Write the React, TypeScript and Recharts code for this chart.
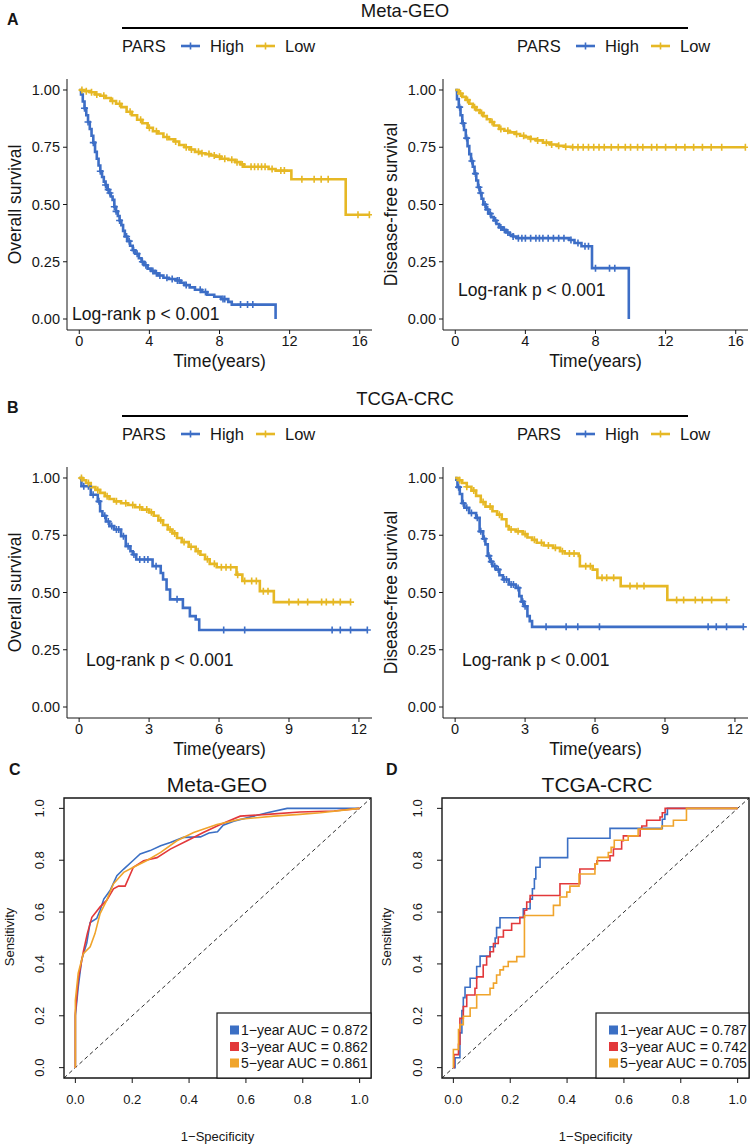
import React from "react";
import { ComposedChart, Line, Scatter, XAxis, YAxis, ReferenceArea, ReferenceLine } from "recharts";

const FONT = '"Liberation Sans", Arial, Helvetica, sans-serif';
const BLUE = "#3d6ec6";
const YELLOW = "#e6b825";
const ROC_BLUE = "#3b6fc4";
const ROC_RED = "#e2383a";
const ROC_ORANGE = "#f0a42b";
const INK = "#161616";

type Pt = [number, number];

// ---- Meta-GEO, overall survival: [time, survival] at each drop, last point = end of follow-up
const geoOsHigh: Pt[] = [
  [0, 1], [0.1, 0.98], [0.2, 0.95], [0.3, 0.92], [0.4, 0.89], [0.5, 0.86], [0.6, 0.83], [0.7, 0.8],
  [0.8, 0.77], [0.9, 0.73], [1.0, 0.7], [1.1, 0.67], [1.2, 0.645], [1.3, 0.62], [1.4, 0.6], [1.5, 0.585],
  [1.6, 0.565], [1.7, 0.55], [1.8, 0.535], [1.9, 0.52], [2.0, 0.49], [2.1, 0.47], [2.2, 0.45], [2.3, 0.43],
  [2.4, 0.41], [2.5, 0.385], [2.6, 0.36], [2.75, 0.34], [2.9, 0.32], [3.05, 0.3], [3.2, 0.285], [3.4, 0.265],
  [3.55, 0.25], [3.7, 0.235], [3.9, 0.22], [4.1, 0.21], [4.3, 0.2], [4.5, 0.19], [4.8, 0.18], [5.1, 0.175],
  [5.5, 0.168], [5.8, 0.158], [6.0, 0.148], [6.3, 0.138], [6.6, 0.128], [7.0, 0.118], [7.3, 0.106],
  [7.7, 0.097], [8.1, 0.087], [8.5, 0.075], [8.7, 0.063], [11.2, 0],
];
const geoOsHighCens = [0.3, 0.5, 0.8, 1.2, 1.5, 1.65, 1.75, 2.0, 2.1, 2.3, 2.7, 2.85, 3.1, 3.3, 3.6, 3.8, 4.2, 4.4, 4.6, 5.0, 5.3, 5.6, 5.7, 6.1, 6.9, 7.2, 8.2, 8.3, 9.2, 9.6, 9.9];
const geoOsLow: Pt[] = [
  [0, 1], [0.3, 0.995], [0.6, 0.99], [0.9, 0.98], [1.2, 0.975], [1.5, 0.965], [1.8, 0.952], [2.1, 0.94],
  [2.4, 0.925], [2.7, 0.905], [3.0, 0.89], [3.3, 0.87], [3.6, 0.855], [3.9, 0.835], [4.2, 0.82], [4.5, 0.81],
  [4.8, 0.795], [5.1, 0.785], [5.4, 0.775], [5.7, 0.76], [6.0, 0.75], [6.3, 0.74], [6.6, 0.73], [6.9, 0.724],
  [7.2, 0.72], [7.5, 0.714], [7.8, 0.709], [8.1, 0.7], [8.5, 0.695], [8.9, 0.685], [9.2, 0.675], [9.4, 0.665],
  [10.8, 0.655], [11.2, 0.648], [12.1, 0.61], [15.2, 0.455], [16.55, 0.455],
];
const geoOsLowCens = [0.15, 0.4, 0.7, 1.0, 1.4, 1.9, 2.3, 2.9, 3.5, 4.0, 4.4, 5.0, 5.5, 6.1, 6.4, 6.8, 7.0, 7.4, 7.7, 8.0, 8.3, 8.7, 9.0, 9.3, 9.8, 10.0, 10.2, 10.4, 10.6, 11.0, 11.5, 11.7, 12.7, 13.4, 13.8, 14.2, 15.9, 16.55];

// ---- Meta-GEO, disease-free survival
const geoDfsHigh: Pt[] = [
  [0, 1], [0.1, 0.96], [0.2, 0.925], [0.3, 0.89], [0.4, 0.855], [0.5, 0.825], [0.6, 0.79], [0.7, 0.755],
  [0.8, 0.72], [0.9, 0.69], [1.0, 0.665], [1.1, 0.635], [1.2, 0.605], [1.3, 0.575], [1.4, 0.55], [1.5, 0.525],
  [1.6, 0.5], [1.75, 0.478], [1.9, 0.46], [2.05, 0.445], [2.2, 0.43], [2.35, 0.415], [2.5, 0.4], [2.7, 0.39],
  [2.9, 0.378], [3.1, 0.368], [3.3, 0.36], [3.5, 0.353], [6.5, 0.345], [6.8, 0.332], [7.2, 0.318],
  [7.8, 0.222], [9.9, 0],
];
const geoDfsHighCens = [0.25, 0.45, 0.65, 0.95, 1.15, 1.35, 1.45, 1.7, 1.85, 2.0, 2.3, 2.6, 2.8, 3.0, 3.3, 3.6, 3.8, 4.0, 4.3, 4.6, 4.8, 5.0, 5.3, 5.6, 5.9, 6.2, 6.6, 7.0, 7.4, 7.6, 8.0, 8.8, 9.1];
const geoDfsLow: Pt[] = [
  [0, 1], [0.2, 0.985], [0.4, 0.97], [0.6, 0.956], [0.8, 0.94], [1.0, 0.925], [1.2, 0.912], [1.4, 0.9],
  [1.6, 0.886], [1.8, 0.872], [2.0, 0.86], [2.2, 0.845], [2.5, 0.83], [2.8, 0.822], [3.1, 0.815],
  [3.4, 0.808], [3.7, 0.8], [4.0, 0.794], [4.3, 0.786], [4.6, 0.78], [5.0, 0.77], [5.4, 0.762],
  [5.8, 0.756], [6.2, 0.752], [6.6, 0.75], [16.55, 0.75],
];
const geoDfsLowCens = [0.3, 0.7, 1.1, 1.5, 2.1, 2.6, 3.0, 3.5, 3.9, 4.3, 4.7, 5.2, 5.5, 5.9, 6.3, 6.7, 7.0, 7.3, 7.6, 7.9, 8.2, 8.5, 8.9, 9.3, 9.7, 10.0, 10.4, 10.7, 11.2, 11.5, 12.0, 12.6, 13.1, 13.6, 14.1, 14.6, 15.2, 16.55];

// ---- TCGA-CRC, overall survival
const tcgaOsHigh: Pt[] = [
  [0, 1], [0.1, 0.964], [0.5, 0.927], [0.8, 0.898], [0.9, 0.855], [1.0, 0.835], [1.15, 0.81], [1.3, 0.79],
  [1.5, 0.775], [1.8, 0.746], [2.0, 0.702], [2.2, 0.68], [2.3, 0.666], [2.45, 0.644], [3.15, 0.615],
  [3.5, 0.585], [3.6, 0.557], [3.75, 0.513], [3.9, 0.47], [4.45, 0.433], [4.75, 0.397], [5.0, 0.382],
  [5.15, 0.336], [12.36, 0.336],
];
const tcgaOsHighCens = [0.2, 0.4, 0.6, 0.85, 1.1, 1.25, 1.4, 1.6, 1.7, 1.9, 2.1, 2.35, 2.6, 2.8, 2.95, 3.3, 4.2, 6.2, 7.1, 10.85, 11.2, 11.64, 12.36];
const tcgaOsLow: Pt[] = [
  [0, 1], [0.15, 0.99], [0.3, 0.978], [0.5, 0.96], [0.7, 0.948], [0.9, 0.935], [1.1, 0.92], [1.3, 0.908],
  [1.5, 0.898], [1.8, 0.89], [2.1, 0.882], [2.4, 0.872], [2.7, 0.862], [3.0, 0.85], [3.2, 0.835],
  [3.4, 0.815], [3.6, 0.795], [3.8, 0.775], [4.0, 0.758], [4.2, 0.738], [4.4, 0.72], [4.7, 0.7], [5.0, 0.68],
  [5.2, 0.665], [5.4, 0.645], [5.6, 0.625], [5.9, 0.61], [6.75, 0.578], [7.0, 0.55], [7.75, 0.506],
  [8.35, 0.458], [11.64, 0.458],
];
const tcgaOsLowCens = [0.1, 0.4, 0.8, 1.2, 1.6, 2.0, 2.3, 2.6, 2.9, 3.1, 3.5, 3.9, 4.1, 4.5, 4.8, 5.1, 5.5, 5.8, 6.1, 6.3, 6.5, 6.8, 7.1, 7.4, 7.6, 7.9, 8.1, 9.0, 9.4, 9.8, 10.4, 10.6, 10.9, 11.2, 11.64];

// ---- TCGA-CRC, disease-free survival
const tcgaDfsHigh: Pt[] = [
  [0, 1], [0.05, 0.993], [0.1, 0.96], [0.2, 0.93], [0.3, 0.89], [0.4, 0.87], [0.6, 0.847], [0.9, 0.826],
  [1.05, 0.767], [1.2, 0.735], [1.3, 0.71], [1.4, 0.66], [1.5, 0.635], [1.6, 0.615], [1.75, 0.6],
  [1.9, 0.575], [2.05, 0.557], [2.3, 0.535], [2.6, 0.52], [2.75, 0.484], [2.85, 0.46], [2.95, 0.44],
  [3.1, 0.397], [3.2, 0.375], [3.3, 0.35], [12.36, 0.35],
];
const tcgaDfsHighCens = [0.15, 0.35, 0.5, 0.7, 0.95, 1.1, 1.25, 1.45, 1.55, 1.7, 1.85, 2.1, 2.2, 2.4, 2.5, 2.7, 2.9, 3.0, 3.9, 4.76, 5.26, 6.19, 10.85, 11.2, 11.64, 12.36];
const tcgaDfsLow: Pt[] = [
  [0, 1], [0.15, 0.99], [0.3, 0.978], [0.5, 0.962], [0.7, 0.945], [0.9, 0.922], [1.1, 0.895], [1.3, 0.875],
  [1.6, 0.855], [1.8, 0.84], [2.0, 0.82], [2.2, 0.79], [2.3, 0.775], [2.6, 0.767], [2.9, 0.755], [3.1, 0.74],
  [3.3, 0.73], [3.5, 0.717], [3.8, 0.705], [4.2, 0.695], [4.5, 0.68], [4.7, 0.67], [5.3, 0.66],
  [5.35, 0.615], [5.9, 0.6], [6.1, 0.564], [7.1, 0.528], [9.1, 0.467], [11.64, 0.467],
];
const tcgaDfsLowCens = [0.2, 0.5, 0.8, 1.2, 1.5, 1.9, 2.4, 2.7, 3.0, 3.4, 3.7, 4.0, 4.3, 4.6, 4.9, 5.1, 5.6, 5.8, 6.3, 6.5, 6.8, 7.5, 7.8, 8.1, 9.5, 9.8, 10.3, 10.6, 11.0, 11.64];

// ---- ROC curves: [1-specificity, sensitivity]
const geoRoc1: Pt[] = [
  [0, 0], [0, 0.2], [0.01, 0.31], [0.022, 0.415], [0.04, 0.48], [0.052, 0.56], [0.075, 0.575], [0.087, 0.607],
  [0.1, 0.65], [0.122, 0.683], [0.146, 0.74], [0.17, 0.766], [0.204, 0.8], [0.228, 0.824], [0.263, 0.837],
  [0.3, 0.856], [0.334, 0.868], [0.38, 0.888], [0.44, 0.89], [0.47, 0.905], [0.5, 0.91], [0.52, 0.935],
  [0.557, 0.95], [0.627, 0.97], [0.675, 0.983], [0.745, 1], [1, 1],
];
const geoRoc3: Pt[] = [
  [0, 0], [0, 0.21], [0.01, 0.34], [0.028, 0.447], [0.042, 0.517], [0.058, 0.58], [0.087, 0.62], [0.11, 0.645],
  [0.134, 0.69], [0.152, 0.7], [0.175, 0.7], [0.204, 0.773], [0.24, 0.798], [0.287, 0.81], [0.334, 0.843],
  [0.393, 0.875], [0.45, 0.907], [0.51, 0.938], [0.58, 0.97], [0.675, 0.977], [0.79, 0.986], [0.91, 0.99], [1, 1],
];
const geoRoc5: Pt[] = [
  [0, 0], [0, 0.26], [0.01, 0.364], [0.028, 0.44], [0.052, 0.466], [0.069, 0.517], [0.087, 0.594], [0.11, 0.645],
  [0.134, 0.709], [0.17, 0.753], [0.204, 0.773], [0.25, 0.798], [0.3, 0.83], [0.357, 0.875], [0.416, 0.907],
  [0.498, 0.938], [0.58, 0.958], [0.698, 0.97], [0.79, 0.977], [0.862, 0.983], [1, 1],
];
const tcgaRoc1: Pt[] = [
  [0, 0], [0.006, 0.038], [0.023, 0.134], [0.03, 0.22], [0.035, 0.27], [0.041, 0.31], [0.059, 0.345],
  [0.082, 0.39], [0.094, 0.43], [0.129, 0.466], [0.147, 0.5], [0.152, 0.54], [0.164, 0.578], [0.246, 0.613],
  [0.27, 0.65], [0.278, 0.69], [0.285, 0.728], [0.29, 0.773], [0.305, 0.81], [0.402, 0.885], [0.551, 0.923],
  [0.735, 0.958], [0.744, 0.977], [0.753, 1], [1, 1],
];
const tcgaRoc3: Pt[] = [
  [0, 0], [0.002, 0.05], [0.018, 0.09], [0.023, 0.19], [0.035, 0.236], [0.047, 0.28], [0.076, 0.306],
  [0.082, 0.35], [0.105, 0.396], [0.117, 0.428], [0.129, 0.447], [0.141, 0.479], [0.158, 0.504], [0.176, 0.53],
  [0.205, 0.556], [0.234, 0.58], [0.25, 0.607], [0.258, 0.639], [0.27, 0.664], [0.375, 0.709], [0.445, 0.766],
  [0.498, 0.785], [0.505, 0.798], [0.551, 0.817], [0.563, 0.843], [0.592, 0.875], [0.598, 0.894], [0.657, 0.92],
  [0.663, 0.932], [0.68, 0.954], [0.727, 0.967], [0.735, 0.983], [0.745, 1], [1, 1],
];
const tcgaRoc5: Pt[] = [
  [0, 0], [0, 0.07], [0.018, 0.147], [0.023, 0.166], [0.035, 0.198], [0.059, 0.23], [0.082, 0.281],
  [0.129, 0.306], [0.141, 0.326], [0.152, 0.357], [0.164, 0.377], [0.176, 0.39], [0.193, 0.409], [0.223, 0.428],
  [0.25, 0.587], [0.352, 0.626], [0.375, 0.658], [0.399, 0.677], [0.41, 0.7], [0.442, 0.747], [0.498, 0.785],
  [0.507, 0.811], [0.545, 0.83], [0.555, 0.85], [0.566, 0.877], [0.615, 0.894], [0.65, 0.92], [0.733, 0.932],
  [0.774, 0.954], [0.82, 1], [1, 1],
];

const geoAuc = ["0.872", "0.862", "0.861"];
const tcgaAuc = ["0.787", "0.742", "0.705"];
const rocYears = ["1", "3", "5"];

const kmYTicks = [0, 0.25, 0.5, 0.75, 1];
const geoTimeTicks = [0, 4, 8, 12, 16];
const tcgaTimeTicks = [0, 3, 6, 9, 12];
const rocTicks = [0, 0.2, 0.4, 0.6, 0.8, 1];

const steps = (pts: Pt[]) => pts.map(([t, s]) => ({ t, s }));
const censorMarks = (pts: Pt[], times: number[]) =>
  times.map((t) => {
    let s = pts[0][1];
    for (const [pt, ps] of pts) if (pt <= t) s = ps;
    return { t, s };
  });
const rocRows = (pts: Pt[]) => pts.map(([x, y]) => ({ x, y }));

const cross = (color: string) => (p: any) => (
  <path d={`M${p.cx - 3.5},${p.cy}h7M${p.cx},${p.cy - 3.5}v7`} stroke={color} strokeWidth={1.6} fill="none" />
);

function KMPanel({ left, top, domain, ticks, high, highCens, low, lowCens }: any) {
  const tickStyle = { fill: INK, fontSize: 14.5, fontFamily: FONT };
  return (
    <div style={{ position: "absolute", left, top }}>
      <ComposedChart width={376} height={301} margin={{ top: 5, right: 4, bottom: 0, left: 10 }}>
        <XAxis type="number" dataKey="t" domain={domain} ticks={ticks} allowDataOverflow height={45}
          tickSize={4} tickMargin={2} stroke={INK} tick={tickStyle} />
        <YAxis type="number" dataKey="s" domain={[-0.048, 1.048]} ticks={kmYTicks} allowDataOverflow width={57}
          tickSize={4} tickMargin={3} stroke={INK} tick={tickStyle} tickFormatter={(v: number) => v.toFixed(2)} />
        <Line data={steps(high)} dataKey="s" type="stepAfter" stroke={BLUE} strokeWidth={2.6} dot={false}
          activeDot={false} isAnimationActive={false} />
        <Scatter data={censorMarks(high, highCens)} dataKey="s" shape={cross(BLUE)} isAnimationActive={false} />
        <Line data={steps(low)} dataKey="s" type="stepAfter" stroke={YELLOW} strokeWidth={2.6} dot={false}
          activeDot={false} isAnimationActive={false} />
        <Scatter data={censorMarks(low, lowCens)} dataKey="s" shape={cross(YELLOW)} isAnimationActive={false} />
      </ComposedChart>
    </div>
  );
}

const RotTick = (p: any) => {
  const cx = p.x - 17;
  return (
    <text x={cx} y={p.y} transform={`rotate(-90 ${cx} ${p.y})`} textAnchor="middle" dominantBaseline="central"
      fill={INK} fontSize={13} fontFamily={FONT}>
      {Number(p.payload.value).toFixed(1)}
    </text>
  );
};

function RocPanel({ left, top, mLeft, mRight, curves, stepped }: any) {
  const colors = [ROC_BLUE, ROC_RED, ROC_ORANGE];
  return (
    <div style={{ position: "absolute", left, top }}>
      <ComposedChart width={376} height={357} margin={{ top: 8, right: mRight, bottom: 9, left: mLeft }}>
        <XAxis type="number" dataKey="x" domain={[-0.04, 1.04]} ticks={rocTicks} allowDataOverflow height={60}
          axisLine={false} tickSize={5} tickMargin={12} stroke={INK}
          tick={{ fill: INK, fontSize: 13, fontFamily: FONT }} tickFormatter={(v: number) => v.toFixed(1)} />
        <YAxis type="number" dataKey="y" domain={[-0.04, 1.04]} ticks={rocTicks} allowDataOverflow width={44}
          axisLine={false} tickSize={5} stroke={INK} tick={<RotTick />} />
        <ReferenceLine segment={[{ x: -0.04, y: -0.04 }, { x: 1.04, y: 1.04 }]} stroke={INK}
          strokeDasharray="4 3" strokeWidth={0.9} />
        {curves.map((c: Pt[], i: number) => (
          <Line key={i} data={rocRows(c)} dataKey="y" type={stepped ? "stepAfter" : "linear"} stroke={colors[i]}
            strokeWidth={1.6} dot={false} activeDot={false} isAnimationActive={false} />
        ))}
        <ReferenceArea x1={-0.04} x2={1.04} y1={-0.04} y2={1.04} fill="none" fillOpacity={0}
          stroke={INK} strokeWidth={1.4} />
      </ComposedChart>
    </div>
  );
}

function KMLegend({ x, y }: { x: number; y: number }) {
  const item = (lx: number, color: string, label: string) => (
    <g>
      <line x1={lx} x2={lx + 19} y1={y - 6} y2={y - 6} stroke={color} strokeWidth={2.6} />
      <path d={`M${lx + 9.5 - 3.5},${y - 6}h7M${lx + 9.5},${y - 9.5}v7`} stroke={color} strokeWidth={1.6} />
      <text x={lx + 29} y={y}>{label}</text>
    </g>
  );
  return (
    <g fontSize={16.5} fill={INK}>
      <text x={x} y={y}>PARS</text>
      {item(x + 59, BLUE, "High")}
      {item(x + 134, YELLOW, "Low")}
    </g>
  );
}

function RocLegend({ x, y, w, auc }: { x: number; y: number; w: number; auc: string[] }) {
  const colors = [ROC_BLUE, ROC_RED, ROC_ORANGE];
  return (
    <g>
      <rect x={x} y={y} width={w} height={65} fill="#fff" stroke={INK} strokeWidth={1.2} />
      {auc.map((a, i) => (
        <g key={i}>
          <rect x={x + 13} y={y + 12.5 + i * 16.5} width={9} height={9} fill={colors[i]} />
          <text x={x + 24} y={y + 22 + i * 16.5} fontSize={14} fill={INK}>
            {`${rocYears[i]}\u2212year AUC = ${a}`}
          </text>
        </g>
      ))}
    </g>
  );
}

function KMTexts({ dy, lTitle, rTitle, group, letter, logY }: any) {
  return (
    <g fill={INK}>
      <text x={7} y={25 + dy} fontSize={16} fontWeight="bold">{letter}</text>
      <text x={405} y={17 + dy} fontSize={18.5} textAnchor="middle">{group}</text>
      <line x1={122} x2={688} y1={28 + dy} y2={28 + dy} stroke="#000" strokeWidth={2.2} />
      <KMLegend x={122} y={52 + dy} />
      <KMLegend x={517} y={52 + dy} />
      <text transform={`translate(15 ${204.5 + dy}) rotate(-90)`} textAnchor="middle" dominantBaseline="central"
        fontSize={17.5}>{lTitle}</text>
      <text transform={`translate(391 ${204.5 + dy}) rotate(-90)`} textAnchor="middle" dominantBaseline="central"
        fontSize={17.5}>{rTitle}</text>
      <text x={219.5} y={367 + dy} fontSize={17.5} textAnchor="middle">Time(years)</text>
      <text x={595.5} y={367 + dy} fontSize={17.5} textAnchor="middle">Time(years)</text>
      <text x={logY[0]} y={logY[1]} fontSize={17.5}>Log-rank p &lt; 0.001</text>
      <text x={logY[2]} y={logY[3]} fontSize={17.5}>Log-rank p &lt; 0.001</text>
    </g>
  );
}

export default function App() {
  return (
    <div style={{ position: "absolute", left: 0, top: 0, width: 752, height: 1147, background: "#fff", fontFamily: FONT }}>
      <KMPanel left={0} top={74} domain={[-0.7, 16.7]} ticks={geoTimeTicks}
        high={geoOsHigh} highCens={geoOsHighCens} low={geoOsLow} lowCens={geoOsLowCens} />
      <KMPanel left={376} top={74} domain={[-0.7, 16.7]} ticks={geoTimeTicks}
        high={geoDfsHigh} highCens={geoDfsHighCens} low={geoDfsLow} lowCens={geoDfsLowCens} />
      <KMPanel left={0} top={462} domain={[-0.52, 12.56]} ticks={tcgaTimeTicks}
        high={tcgaOsHigh} highCens={tcgaOsHighCens} low={tcgaOsLow} lowCens={tcgaOsLowCens} />
      <KMPanel left={376} top={462} domain={[-0.52, 12.56]} ticks={tcgaTimeTicks}
        high={tcgaDfsHigh} highCens={tcgaDfsHighCens} low={tcgaDfsLow} lowCens={tcgaDfsLowCens} />
      <RocPanel left={0} top={790} mLeft={20} mRight={5} curves={[geoRoc1, geoRoc3, geoRoc5]} stepped={false} />
      <RocPanel left={376} top={790} mLeft={22} mRight={3} curves={[tcgaRoc1, tcgaRoc3, tcgaRoc5]} stepped />
      <svg width={752} height={1147} style={{ position: "absolute", left: 0, top: 0, pointerEvents: "none" }}
        fontFamily={FONT}>
        <KMTexts dy={0} letter="A" group="Meta-GEO" lTitle="Overall survival" rTitle="Disease-free survival"
          logY={[72, 320, 458, 296]} />
        <KMTexts dy={388} letter="B" group="TCGA-CRC" lTitle="Overall survival" rTitle="Disease-free survival"
          logY={[86, 666, 462, 666]} />
        <g fill={INK}>
          <text x={9} y={775} fontSize={16} fontWeight="bold">C</text>
          <text x={386} y={775} fontSize={16} fontWeight="bold">D</text>
          <text x={217} y={792} fontSize={21} textAnchor="middle">Meta-GEO</text>
          <text x={597} y={792} fontSize={21} textAnchor="middle">TCGA-CRC</text>
          <text transform="translate(9 937) rotate(-90)" textAnchor="middle" dominantBaseline="central" fontSize={13}>Sensitivity</text>
          <text transform="translate(386 937) rotate(-90)" textAnchor="middle" dominantBaseline="central" fontSize={13}>Sensitivity</text>
          <text x={217.5} y={1141} fontSize={13} textAnchor="middle">1{"\u2212"}Specificity</text>
          <text x={595.5} y={1141} fontSize={13} textAnchor="middle">1{"\u2212"}Specificity</text>
        </g>
        <RocLegend x={217} y={1013} w={154} auc={geoAuc} />
        <RocLegend x={596} y={1013} w={153} auc={tcgaAuc} />
      </svg>
    </div>
  );
}
